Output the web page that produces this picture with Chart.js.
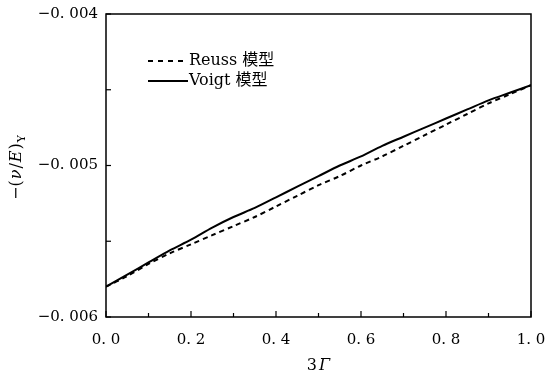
<!DOCTYPE html>
<html>
<head>
<meta charset="utf-8">
<script src="https://cdn.jsdelivr.net/npm/chart.js@4.4.0/dist/chart.umd.min.js"></script>
<style>
html,body{margin:0;padding:0;background:#fff;}
canvas{display:block;}
</style>
</head>
<body>
<canvas id="c" width="548" height="375"></canvas>
<script>
// ---- data ----
const xValues = [0, 0.05, 0.10, 0.15, 0.20, 0.25, 0.30, 0.35, 0.40, 0.45, 0.50, 0.55, 0.60, 0.65, 0.70, 0.75, 0.80, 0.85, 0.90, 0.95, 1.00];
const reussValues = [-0.00580, -0.00573, -0.00565, -0.00558, -0.00552, -0.00546, -0.00540, -0.00534, -0.00527, -0.00520, -0.00513, -0.00507, -0.00500, -0.00494, -0.00487, -0.00480, -0.00473, -0.00466, -0.00459, -0.00453, -0.00447];
const voigtValues = [-0.00580, -0.00572, -0.00564, -0.00556, -0.00549, -0.00541, -0.00534, -0.00528, -0.00521, -0.00514, -0.00507, -0.00500, -0.00494, -0.00487, -0.00481, -0.00475, -0.00469, -0.00463, -0.00457, -0.00452, -0.00447];
const seriesLabels = ["Reuss 模型", "Voigt 模型"];
const xTickValues = [0, 0.2, 0.4, 0.6, 0.8, 1.0];
const xTickLabels = ["0. 0", "0. 2", "0. 4", "0. 6", "0. 8", "1. 0"];
const yTickValues = [-0.006, -0.005, -0.004];
const yTickLabels = ["\u22120. 006", "\u22120. 005", "\u22120. 004"];

const SERIF = "'DejaVu Serif', 'Noto Sans CJK SC', serif";

function labelFor(v, vals, labels) {
  for (let i = 0; i < vals.length; i++) if (Math.abs(v - vals[i]) < 1e-9) return labels[i];
  return '';
}

const decor = {
  id: 'decor',
  afterDraw(chart) {
    const ctx = chart.ctx, a = chart.chartArea;
    const xs = chart.scales.x, ys = chart.scales.y;
    ctx.save();
    ctx.strokeStyle = '#000';
    ctx.lineWidth = 1.5;
    ctx.strokeRect(a.left, a.top, a.right - a.left, a.bottom - a.top);
    // inward ticks
    ctx.lineWidth = 1.2;
    xs.ticks.forEach(t => {
      const px = xs.getPixelForValue(t.value);
      const major = labelFor(t.value, xTickValues, xTickLabels) !== '';
      const len = major ? 6 : 4;
      ctx.beginPath(); ctx.moveTo(px, a.bottom); ctx.lineTo(px, a.bottom - len); ctx.stroke();
    });
    ys.ticks.forEach(t => {
      const py = ys.getPixelForValue(t.value);
      ctx.beginPath(); ctx.moveTo(a.left, py); ctx.lineTo(a.left + 5, py); ctx.stroke();
    });
    // x title: 3Γ
    ctx.fillStyle = '#000';
    ctx.textBaseline = 'middle';
    const cx = (a.left + a.right) / 2, cy = 366;
    ctx.font = '16px ' + SERIF;
    const w3 = ctx.measureText('3').width;
    ctx.font = 'italic 16px ' + SERIF;
    const wG = ctx.measureText('\u0393').width;
    let sx = cx - (w3 + wG + 2) / 2;
    ctx.textAlign = 'left';
    ctx.font = '16px ' + SERIF; ctx.fillText('3', sx, cy);
    ctx.font = 'italic 16px ' + SERIF; ctx.fillText('\u0393', sx + w3 + 2, cy);
    // y title: −(ν/E)_Y rotated
    const parts = [
      ['\u2212(', '16px ' + SERIF, 0],
      ['\u03BD', 'italic 16px ' + SERIF, 0],
      ['/', '16px ' + SERIF, 0],
      ['E', 'italic 16px ' + SERIF, 0],
      [')', '16px ' + SERIF, 0],
      ['Y', '11px ' + SERIF, 5]
    ];
    const gap = 1;
    let total = 0;
    parts.forEach(p => { ctx.font = p[1]; total += ctx.measureText(p[0]).width + gap; });
    ctx.translate(17, 167);
    ctx.rotate(-Math.PI / 2);
    let tx = -total / 2;
    parts.forEach(p => { ctx.font = p[1]; ctx.fillText(p[0], tx, p[2]); tx += ctx.measureText(p[0]).width + gap; });
    ctx.restore();
    // legend
    ctx.save();
    const rows = [61, 81];
    chart.data.datasets.forEach((ds, i) => {
      const y = rows[i];
      ctx.strokeStyle = '#000';
      ctx.lineWidth = 2;
      ctx.setLineDash(ds.borderDash ? [5, 5] : []);
      ctx.beginPath(); ctx.moveTo(148, y); ctx.lineTo(188, y); ctx.stroke();
      ctx.setLineDash([]);
      ctx.fillStyle = '#000';
      ctx.font = '16px ' + SERIF;
      ctx.textAlign = 'left'; ctx.textBaseline = 'middle';
      ctx.fillText(ds.label, 189, y);
    });
    ctx.restore();
  }
};

new Chart(document.getElementById('c'), {
  type: 'line',
  data: {
    datasets: [
      { label: seriesLabels[0], data: xValues.map((x, i) => ({x: x, y: reussValues[i]})),
        borderColor: '#000', borderWidth: 2, borderDash: [5, 4], pointRadius: 0, tension: 0.3, fill: false },
      { label: seriesLabels[1], data: xValues.map((x, i) => ({x: x, y: voigtValues[i]})),
        borderColor: '#000', borderWidth: 2, pointRadius: 0, tension: 0.3, fill: false }
    ]
  },
  options: {
    responsive: false,
    animation: false,
    devicePixelRatio: 1,
    layout: { padding: { left: 0, right: 17, top: 14, bottom: 0 } },
    plugins: { legend: { display: false }, tooltip: { enabled: false } },
    scales: {
      x: {
        type: 'linear', min: 0, max: 1,
        grid: { display: false, drawTicks: false },
        border: { display: false },
        ticks: { stepSize: 0.1, autoSkip: false, maxRotation: 0, padding: 14, color: '#000',
                 font: { family: SERIF, size: 15 },
                 callback: v => labelFor(v, xTickValues, xTickLabels) },
        afterFit: s => { s.height = 58; s.paddingLeft = 0; s.paddingRight = 0; }
      },
      y: {
        min: -0.006, max: -0.004,
        grid: { display: false, drawTicks: false },
        border: { display: false },
        ticks: { stepSize: 0.0005, autoSkip: false, padding: 8, color: '#000',
                 font: { family: SERIF, size: 15 },
                 callback: v => labelFor(v, yTickValues, yTickLabels) },
        afterFit: s => { s.width = 106; s.paddingTop = 0; s.paddingBottom = 0; }
      }
    }
  },
  plugins: [decor]
});
</script>
</body>
</html>
